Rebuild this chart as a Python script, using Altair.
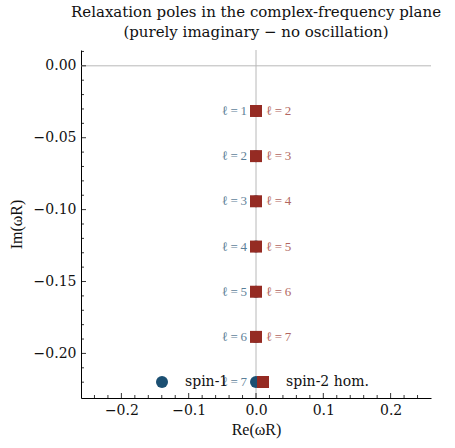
import altair as alt
import pandas as pd

# Relaxation poles (purely imaginary frequencies), Im(omega R)
ell_spin1 = [1, 2, 3, 4, 5, 6, 7]
im_spin1 = [-0.0314, -0.0628, -0.0942, -0.1257, -0.1571, -0.1885, -0.2199]
ell_spin2 = [2, 3, 4, 5, 6, 7]
im_spin2 = [-0.0314, -0.0628, -0.0942, -0.1257, -0.1571, -0.1885]
re_value = 0.0

series_names = ["spin-1", "spin-2 hom."]

x_major = [-0.2, -0.1, 0.0, 0.1, 0.2]
x_minor = [-0.24, -0.22, -0.18, -0.16, -0.14, -0.12, -0.08, -0.06, -0.04, -0.02,
           0.02, 0.04, 0.06, 0.08, 0.12, 0.14, 0.16, 0.18, 0.22, 0.24]
y_major = [0.0, -0.05, -0.10, -0.15, -0.20]
y_minor = [0.01, -0.01, -0.02, -0.03, -0.04, -0.06, -0.07, -0.08, -0.09,
           -0.11, -0.12, -0.13, -0.14, -0.16, -0.17, -0.18, -0.19, -0.21, -0.22]

W, H = 350, 348
BLUE = "#1b4f72"
RED = "#952b23"
SERIF = "DejaVu Serif"
MATH = "Liberation Serif"

xs = alt.Scale(domain=[-0.26, 0.26], nice=False, zero=False)
ys = alt.Scale(domain=[-0.231, 0.011], nice=False, zero=False)

x_axis = alt.Axis(values=x_major, format=".1f", ticks=False, grid=False,
                  domainColor="#000000", domainWidth=1, labelFont=SERIF,
                  labelFontSize=14, labelColor="#111111", labelPadding=5,
                  title="Re(\u03c9R)", titleFont=MATH, titleFontSize=16,
                  titleFontWeight="normal", titleColor="#111111", titlePadding=4)
y_axis = alt.Axis(values=y_major, format=".2f", ticks=False, grid=False,
                  domainColor="#000000", domainWidth=1, labelFont=SERIF,
                  labelFontSize=14, labelColor="#111111", labelPadding=5,
                  title="Im(\u03c9R)", titleFont=MATH, titleFontSize=16,
                  titleFontWeight="normal", titleColor="#111111", titlePadding=9)


def X(field):
    return alt.X(field, scale=xs, axis=x_axis, title="Re(\u03c9R)")


def Y(field):
    return alt.Y(field, scale=ys, axis=y_axis, title="Im(\u03c9R)")


poles = pd.DataFrame({
    "re": [re_value] * (len(im_spin1) + len(im_spin2)),
    "im": im_spin1 + im_spin2,
    "ell": ell_spin1 + ell_spin2,
    "series": [series_names[0]] * len(im_spin1) + [series_names[1]] * len(im_spin2),
    "order": list(range(len(im_spin1) + len(im_spin2))),
})
poles["label"] = poles["ell"].map(lambda n: f"\u2113\u2009=\u2009{n}")

legend = alt.Legend(
    title=None, orient="none", legendX=74, legendY=325, direction="horizontal",
    columns=2, padding=0, labelFont=SERIF, labelFontSize=14, labelColor="#111111",
    labelOffset=16, columnPadding=27, symbolSize=144, symbolStrokeWidth=0,
    symbolOpacity=1, labelLimit=200,
)

points = alt.Chart(poles).mark_point(filled=True, opacity=1, size=144).encode(
    x=X("re:Q"),
    y=Y("im:Q"),
    color=alt.Color("series:N", scale=alt.Scale(domain=series_names, range=[BLUE, RED]), legend=legend),
    shape=alt.Shape("series:N", scale=alt.Scale(domain=series_names, range=["circle", "square"]), legend=legend),
    order=alt.Order("order:Q"),
)

# Zero lines through the origin
hzero = alt.Chart(pd.DataFrame({"v": [0.0]})).mark_rule(color="#b8b8b8", strokeWidth=1).encode(
    y=Y("v:Q"), x=alt.value(0), x2=alt.value(W))
vzero = alt.Chart(pd.DataFrame({"v": [0.0]})).mark_rule(color="#b8b8b8", strokeWidth=1).encode(
    x=X("v:Q"), y=alt.value(0), y2=alt.value(H))


# Inward-pointing tick marks
def xticks(vals, length):
    return alt.Chart(pd.DataFrame({"v": vals})).mark_rule(color="#000000", strokeWidth=0.8).encode(
        x=X("v:Q"), y=alt.value(H), y2=alt.value(H - length))


def yticks(vals, length):
    return alt.Chart(pd.DataFrame({"v": vals})).mark_rule(color="#000000", strokeWidth=0.8).encode(
        y=Y("v:Q"), x=alt.value(0), x2=alt.value(length))


spin1_df = poles[poles["series"] == series_names[0]]
spin2_df = poles[poles["series"] == series_names[1]]

labels1 = alt.Chart(spin1_df).mark_text(
    align="right", baseline="middle", dx=-9, font=MATH, fontSize=13,
    color=BLUE, opacity=0.72).encode(x=X("re:Q"), y=Y("im:Q"), text="label:N")
labels2 = alt.Chart(spin2_df).mark_text(
    align="left", baseline="middle", dx=10, font=MATH, fontSize=13,
    color=RED, opacity=0.72).encode(x=X("re:Q"), y=Y("im:Q"), text="label:N")

chart = alt.layer(
    hzero, vzero,
    xticks(x_major, 5), xticks(x_minor, 3), yticks(y_major, 5), yticks(y_minor, 3),
    labels1, labels2, points,
).properties(
    width=W, height=H,
    background="white",
    autosize=alt.AutoSizeParams(type="none"),
    padding={"left": 81, "top": 50, "right": 24, "bottom": 50},
    title=alt.TitleParams(
        ["Relaxation poles in the complex-frequency plane",
         "(purely imaginary \u2212 no oscillation)"],
        font=SERIF, fontSize=15, fontWeight="normal", color="#111111",
        anchor="middle", offset=10, lineHeight=20),
).configure_view(stroke=None)

chart.save("out.html", embed_options={"renderer": "svg", "actions": False})
